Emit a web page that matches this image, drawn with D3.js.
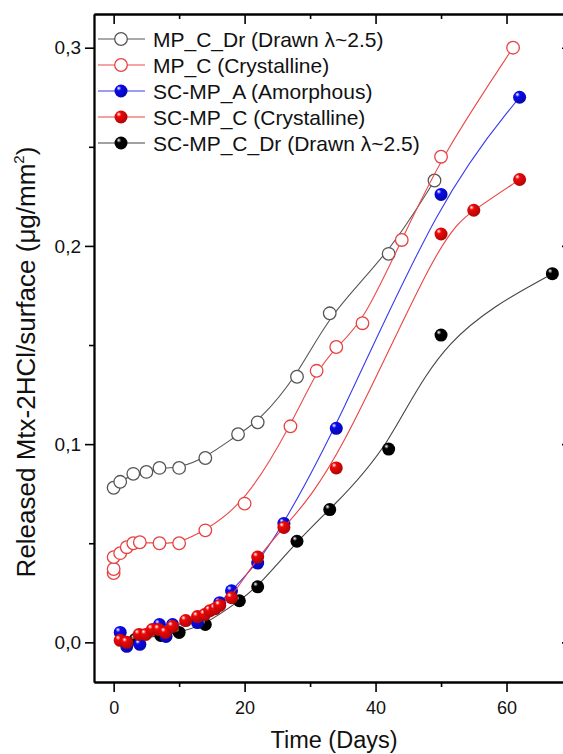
<!DOCTYPE html>
<html>
<head>
<meta charset="utf-8">
<script src="https://cdn.jsdelivr.net/npm/d3@7"></script>
<style>
body { margin: 0; background: #fff; }
svg { display: block; font-family: "Liberation Sans", Arial, sans-serif; }
</style>
</head>
<body>
<svg id="chart" width="563" height="754"></svg>
<script>
// data (days, released amount)
const days_MP_C_Dr = [0, 1, 3, 5, 7, 10, 14, 19, 22, 28, 33, 42, 49]
const vals_MP_C_Dr = [0.078, 0.081, 0.085, 0.086, 0.088, 0.088, 0.093, 0.105, 0.111, 0.134, 0.166, 0.196, 0.233]

const days_MP_C = [0, 0, 0, 1, 2, 3, 4, 7, 10, 14, 20, 27, 31, 34, 38, 44, 50, 61]
const vals_MP_C = [0.035, 0.037, 0.043, 0.045, 0.048, 0.050, 0.0505, 0.050, 0.050, 0.0565, 0.070, 0.109, 0.137, 0.149, 0.161, 0.203, 0.245, 0.300]

const days_SC_A = [1, 2, 4, 7, 8, 9, 12.8, 16.2, 18, 22, 26, 34, 50, 62]
const vals_SC_A = [0.005, -0.002, -0.001, 0.009, 0.003, 0.009, 0.010, 0.020, 0.026, 0.040, 0.060, 0.108, 0.226, 0.275]

const days_SC_C = [1, 2, 3.9, 4.9, 5.9, 6.9, 7.9, 9, 11, 12.8, 13.9, 14.7, 15.5, 16.2, 18, 22, 26, 34, 50, 55, 62]
const vals_SC_C = [0.001, 0.000, 0.004, 0.004, 0.0065, 0.0065, 0.005, 0.008, 0.011, 0.013, 0.014, 0.016, 0.017, 0.0186, 0.0225, 0.043, 0.058, 0.088, 0.206, 0.218, 0.2335]

const days_SC_C_Dr = [3.3, 7.2, 10, 14, 19.2, 22, 28, 33, 42, 50, 67]
const vals_SC_C_Dr = [0.0015, 0.0035, 0.005, 0.009, 0.021, 0.028, 0.051, 0.067, 0.0975, 0.155, 0.186]

const xMajor = [0, 20, 40, 60]
const xMinor = [10, 30, 50, 70]
const yMajor = [0, 0.1, 0.2, 0.3]
const yMinor = [0.05, 0.15, 0.25]

const series = [
	{ name: 'MP_C_Dr (Drawn \u03bb~2.5)', days: days_MP_C_Dr, vals: vals_MP_C_Dr, line: '#555', color: '#555', open: true },
	{ name: 'MP_C (Crystalline)', days: days_MP_C, vals: vals_MP_C, line: '#ec4a4a', color: '#e84040', open: true },
	{ name: 'SC-MP_A (Amorphous)', days: days_SC_A, vals: vals_SC_A, line: '#3a3af0', color: '#0a0aee', open: false },
	{ name: 'SC-MP_C (Crystalline)', days: days_SC_C, vals: vals_SC_C, line: '#ec4040', color: '#f00808', open: false },
	{ name: 'SC-MP_C_Dr (Drawn \u03bb~2.5)', days: days_SC_C_Dr, vals: vals_SC_C_Dr, line: '#444', color: '#000', open: false }
]
const drawOrder = [0, 1, 4, 2, 3]

const svg = d3.select('#chart')

const x = d3.scaleLinear().domain([-3, 70]).range([94, 572])
const y = d3.scaleLinear().domain([-0.02, 0.317]).range([682, 14])

const fmt = d3.formatLocale({ decimal: ',', thousands: '.', grouping: [3], currency: ['', ''] }).format('.1f')

// gradients for the shaded balls
const defs = svg.append('defs')
series.forEach(function(s, i) {
	if (s.open) return
	const g = defs.append('radialGradient')
	.attr('id', 'ball' + i)
	.attr('cx', '38%').attr('cy', '35%').attr('r', '65%')
	.attr('fx', '32%').attr('fy', '28%')
	g.append('stop').attr('offset', '0%').attr('stop-color', '#fff')
	g.append('stop').attr('offset', '28%').attr('stop-color', s.color)
	g.append('stop').attr('offset', '100%').attr('stop-color', d3.color(s.color).darker(0.9))
})

// axes
function styleAxis(g) {
	g.selectAll('.domain').attr('stroke', '#000').attr('stroke-width', 1.8)
	g.selectAll('.tick line').attr('stroke', '#000').attr('stroke-width', 1.6)
	g.selectAll('.tick text').attr('fill', '#111')
}

svg.append('g').attr('transform', 'translate(0,682)')
.call(d3.axisBottom(x).tickValues(xMajor).tickSize(10).tickSizeOuter(0).tickPadding(9))
.call(styleAxis)
.selectAll('.tick text').style('font-size', '18px')
svg.append('g').attr('transform', 'translate(0,682)')
.call(d3.axisBottom(x).tickValues(xMinor).tickSize(5).tickSizeOuter(0).tickFormat(''))
.call(styleAxis)

svg.append('g').attr('transform', 'translate(0,14)')
.call(d3.axisTop(x).tickValues(xMajor).tickSize(-10).tickSizeOuter(0).tickFormat(''))
.call(styleAxis)
svg.append('g').attr('transform', 'translate(0,14)')
.call(d3.axisTop(x).tickValues(xMinor).tickSize(-5).tickSizeOuter(0).tickFormat(''))
.call(styleAxis)

svg.append('g').attr('transform', 'translate(94,0)')
.call(d3.axisLeft(y).tickValues(yMajor).tickSize(9).tickSizeOuter(0).tickPadding(4).tickFormat(fmt))
.call(styleAxis)
.selectAll('.tick text').style('font-size', '19px')
svg.append('g').attr('transform', 'translate(94,0)')
.call(d3.axisLeft(y).tickValues(yMinor).tickSize(5).tickSizeOuter(0).tickFormat(''))
.call(styleAxis)

svg.append('g').attr('transform', 'translate(572,0)')
.call(d3.axisRight(y).tickValues(yMajor).tickSize(-10).tickSizeOuter(0).tickFormat(''))
.call(styleAxis)
svg.append('g').attr('transform', 'translate(572,0)')
.call(d3.axisRight(y).tickValues(yMinor).tickSize(-5).tickSizeOuter(0).tickFormat(''))
.call(styleAxis)

// axis titles
svg.append('text')
.attr('x', 334)
.attr('y', 748)
.attr('text-anchor', 'middle')
.style('font-size', '23.5px')
.attr('fill', '#111')
.text('Time (Days)')

const yt = svg.append('text')
.attr('transform', 'translate(35,362) rotate(-90)')
.attr('text-anchor', 'middle')
.style('font-size', '26px')
.attr('fill', '#111')
yt.append('tspan').text('Released Mtx-2HCl/surface (\u03bcg/mm')
yt.append('tspan').attr('dy', -11).style('font-size', '15px').text('2')
yt.append('tspan').attr('dy', 11).text(')')

// series
const line = d3.line().x(d => x(d[0])).y(d => y(d[1])).curve(d3.curveBasis)

function drawMarker(sel, s, i) {
	if (s.open) {
		sel.attr('fill', '#fff').attr('stroke', s.color).attr('stroke-width', 1.3).attr('r', 6.3)
	} else {
		sel.attr('fill', 'url(#ball' + i + ')').attr('stroke', 'none').attr('r', 6.5)
	}
}

drawOrder.forEach(function(i) {
	const s = series[i]
	const pts = s.days.map((d, k) => [d, s.vals[k]])
	svg.append('path')
	.datum(pts)
	.attr('d', line)
	.attr('fill', 'none')
	.attr('stroke', s.line)
	.attr('stroke-width', 1.1)

	svg.append('g')
	.selectAll('circle')
	.data(pts)
	.join('circle')
	.attr('cx', d => x(d[0]))
	.attr('cy', d => y(d[1]))
	.call(drawMarker, s, i)
})

// legend
const legend = svg.append('g').attr('class', 'legend')
series.forEach(function(s, i) {
	const ly = 39 + i * 26
	legend.append('line')
	.attr('x1', 98).attr('x2', 145)
	.attr('y1', ly).attr('y2', ly)
	.attr('stroke', s.line)
	.attr('stroke-width', 1.1)
	legend.append('circle')
	.attr('cx', 121).attr('cy', ly)
	.call(drawMarker, s, i)
	legend.append('text')
	.attr('x', 153)
	.attr('y', ly + 7.5)
	.style('font-size', '21px')
	.attr('fill', '#111')
	.text(s.name)
})
</script>
</body>
</html>
